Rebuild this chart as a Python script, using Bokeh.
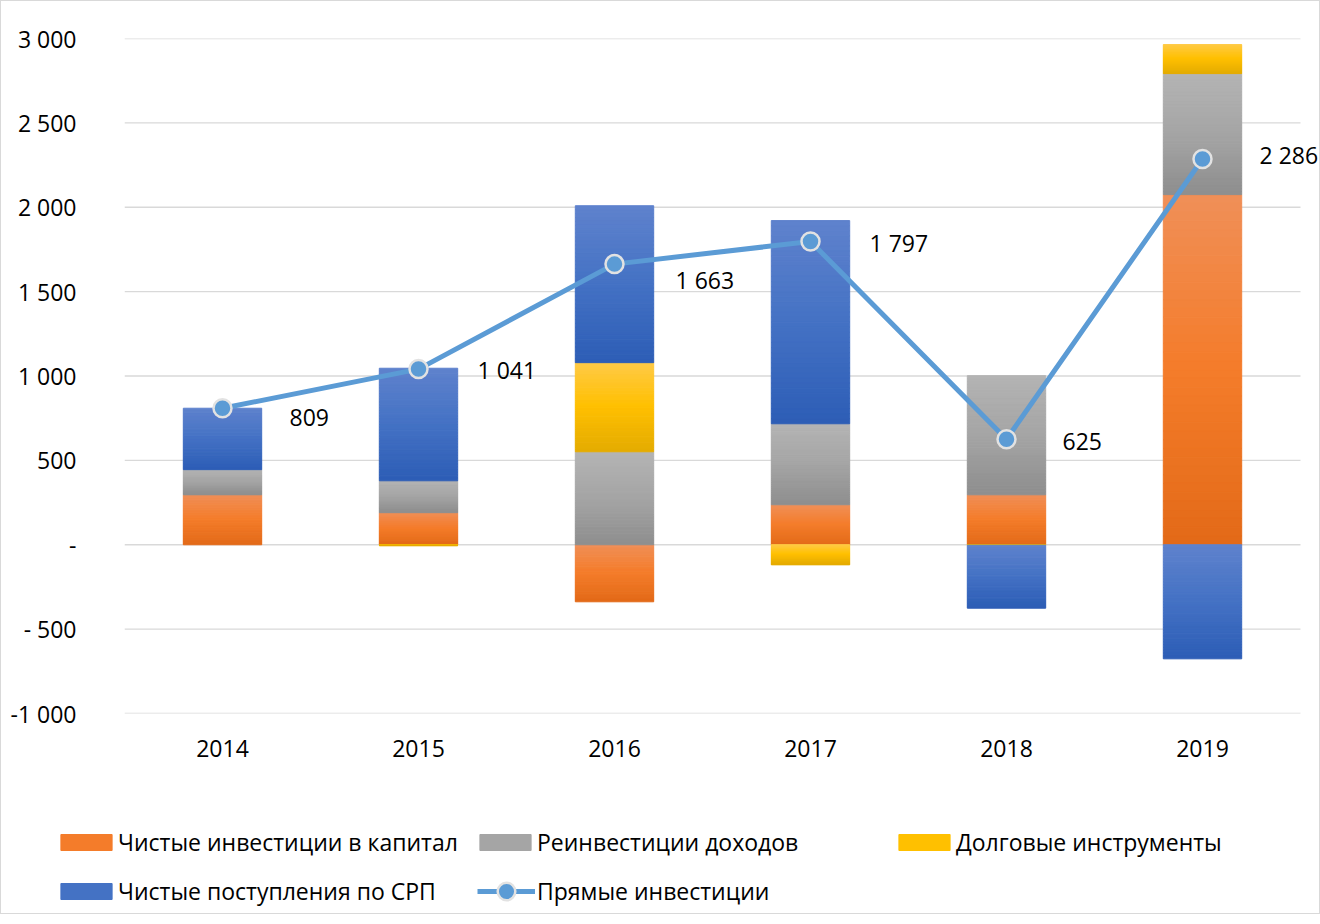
from bokeh.plotting import figure
from bokeh.layouts import column, row
from bokeh.models import (ColumnDataSource, Legend, LegendItem, FixedTicker,
                          CustomJSTickFormatter, Range1d)
from bokeh.core.properties import value
from bokeh.embed import file_html
from bokeh.resources import INLINE

# ---------------- data ----------------
years = ["2014", "2015", "2016", "2017", "2018", "2019"]
equity = [296, 190, -338, 237, 296, 2075]          # Чистые инвестиции в капитал
reinvest = [149, 189, 551, 480, 706, 717]          # Реинвестиции доходов
debt = [0, -5, 528, -119, -3, 172]                 # Долговые инструменты
psa = [364, 667, 930, 1204, -373, -676]            # Чистые поступления по СРП
direct = [809, 1041, 1663, 1797, 625, 2286]        # Прямые инвестиции
y_ticks = [-1000, -500, 0, 500, 1000, 1500, 2000, 2500, 3000]

series_names = ["Чистые инвестиции в капитал", "Реинвестиции доходов",
                "Долговые инструменты", "Чистые поступления по СРП"]
line_name = "Прямые инвестиции"
series_vals = [equity, reinvest, debt, psa]

# gradient stops: top, middle, bottom
grad = [
    ("#f08f58", "#f47c2a", "#e36a18"),
    ("#b4b4b4", "#a5a5a5", "#8e8e8e"),
    ("#ffca48", "#ffc000", "#e4ab00"),
    ("#5f82cd", "#4472c4", "#2d5db6"),
]
mid_colors = [g[1] for g in grad]
LINE_COLOR = "#5b9bd5"
RING_COLOR = "#e2e2e2"

FONT = "Open Sans"
FS = "23px"
BAR_W = 0.4
W = 1318

def hex2rgb(h):
    h = h.lstrip("#")
    return tuple(int(h[i:i + 2], 16) for i in (0, 2, 4))

def lerp(c1, c2, t):
    a, b = hex2rgb(c1), hex2rgb(c2)
    return "#%02x%02x%02x" % tuple(int(round(a[i] + (b[i] - a[i]) * t)) for i in range(3))

def grad_color(stops, t):
    if t <= 0.5:
        return lerp(stops[0], stops[1], t / 0.5)
    return lerp(stops[1], stops[2], (t - 0.5) / 0.5)

xpos = [i + 0.5 for i in range(len(years))]
n_cat = len(years)

# ---------------- main chart ----------------
p = figure(x_range=Range1d(0, n_cat + 19 / 196), y_range=Range1d(-1000, 3000),
           width=W, height=780, output_backend="svg", toolbar_location=None,
           min_border_left=123, min_border_right=0, min_border_top=37, min_border_bottom=68)
p.outline_line_color = None
p.background_fill_color = "white"
p.border_fill_color = "white"

p.xgrid.grid_line_color = None
p.ygrid.grid_line_color = None
p.segment(x0=[0] * len(y_ticks), x1=[n_cat] * len(y_ticks), y0=y_ticks, y1=y_ticks,
          line_color="#d9d9d9", line_width=1.3, level="underlay")

p.yaxis.ticker = FixedTicker(ticks=y_ticks)
p.yaxis.formatter = CustomJSTickFormatter(code="""
    const v = Math.round(tick);
    if (v === 0) return "-";
    const a = Math.abs(v);
    const s = a.toString().replace(/\\B(?=(\\d{3})+(?!\\d))/g, " ");
    if (v < 0) return (a < 1000 ? "- " : "-") + s;
    return s;
""")
p.xaxis.ticker = FixedTicker(ticks=xpos)
p.xaxis.major_label_overrides = {x: y for x, y in zip(xpos, years)}
for ax in (p.xaxis, p.yaxis):
    ax.axis_line_color = None
    ax.major_tick_line_color = None
    ax.minor_tick_line_color = None
    ax.major_label_text_font = FONT
    ax.major_label_text_font_size = FS
    ax.major_label_text_color = "#000000"
p.yaxis.major_label_standoff = 42
p.xaxis.major_label_standoff = 20

# stacked bars with vertical gradient
N = 40
xs, tops, bots, cols = [], [], [], []
for i in range(n_cat):
    pos, neg = 0.0, 0.0
    for s, vals in enumerate(series_vals):
        v = vals[i]
        if v == 0:
            continue
        if v > 0:
            b, t = pos, pos + v
            pos = t
        else:
            t, b = neg, neg + v
            neg = b
        h = t - b
        for k in range(N):
            xs.append(xpos[i])
            tops.append(t - h * k / N)
            bots.append(t - h * (k + 1) / N)
            cols.append(grad_color(grad[s], (k + 0.5) / N))

bar_src = ColumnDataSource(dict(x=xs, top=tops, bottom=bots, color=cols))
p.vbar(x="x", top="top", bottom="bottom", width=BAR_W, source=bar_src,
       fill_color="color", line_color="color", line_width=1)

labels = [f"{v:,}".replace(",", " ") for v in direct]
line_src = ColumnDataSource(dict(x=xpos, y=direct, lbl=labels))
p.line(x="x", y="y", source=line_src, line_color=LINE_COLOR, line_width=5)
p.scatter(x="x", y="y", source=line_src, size=18, marker="circle",
          fill_color=LINE_COLOR, line_color=RING_COLOR, line_width=2.5)

dx = [67, 59, 61, 59, 56, 57]
dy = [9, 1, 16, 1, 2, -4]
for i in range(n_cat):
    src = ColumnDataSource(dict(x=[xpos[i]], y=[direct[i]], t=[labels[i]]))
    p.text(x="x", y="y", text="t", source=src, x_offset=dx[i], y_offset=dy[i],
           text_font=value(FONT), text_font_size=FS, text_color="#000000",
           text_align="left", text_baseline="middle")

# ---------------- legend strip ----------------
lg = figure(x_range=Range1d(0, 1), y_range=Range1d(0, 1), width=W, height=132,
            output_backend="svg", toolbar_location=None,
            x_axis_location=None, y_axis_location=None,
            min_border_left=0, min_border_right=0, min_border_top=0, min_border_bottom=0)
lg.grid.visible = False
lg.outline_line_color = None

# proxy renderers lie outside the visible range; they only feed the legends
OFF = -5
proxies = []
for c in mid_colors:
    proxies.append(lg.vbar(x=[OFF], top=[OFF], bottom=[OFF - 1], width=BAR_W,
                           fill_color=c, line_color=c))
ln = lg.line(x=[OFF, OFF - 1], y=[OFF, OFF], line_color=LINE_COLOR, line_width=5)
sc = lg.scatter(x=[OFF], y=[OFF], size=18, marker="circle", fill_color=LINE_COLOR,
                line_color=RING_COLOR, line_width=2.5)

items = {name: LegendItem(label=name, renderers=[r]) for name, r in zip(series_names, proxies)}
items[line_name] = LegendItem(label=line_name, renderers=[ln, sc])

common = dict(padding=0, margin=0, border_line_color=None, background_fill_alpha=0,
              label_text_font=FONT, label_text_font_size=FS, label_text_color="#000000",
              label_height=34)

leg_row1 = Legend(items=[items[series_names[0]], items[series_names[1]], items[series_names[2]]],
                  orientation="horizontal", location=(53, 54),
                  glyph_width=64, glyph_height=20, label_standoff=0,
                  label_width=345, spacing=10, **common)
leg_row2a = Legend(items=[items[series_names[3]]], location=(53, 5),
                   glyph_width=64, glyph_height=20, label_standoff=0,
                   label_width=345, spacing=10, **common)
leg_row2b = Legend(items=[items[line_name]], location=(476, 0),
                   glyph_width=58, glyph_height=44, label_standoff=2,
                   label_width=300, spacing=10, **common)
for L in (leg_row1, leg_row2a, leg_row2b):
    lg.add_layout(L, "center")

layout = column(p, row(lg), spacing=0, styles={"border": "1px solid #d9d9d9"})
open("out.html", "w").write(file_html(layout, INLINE))
